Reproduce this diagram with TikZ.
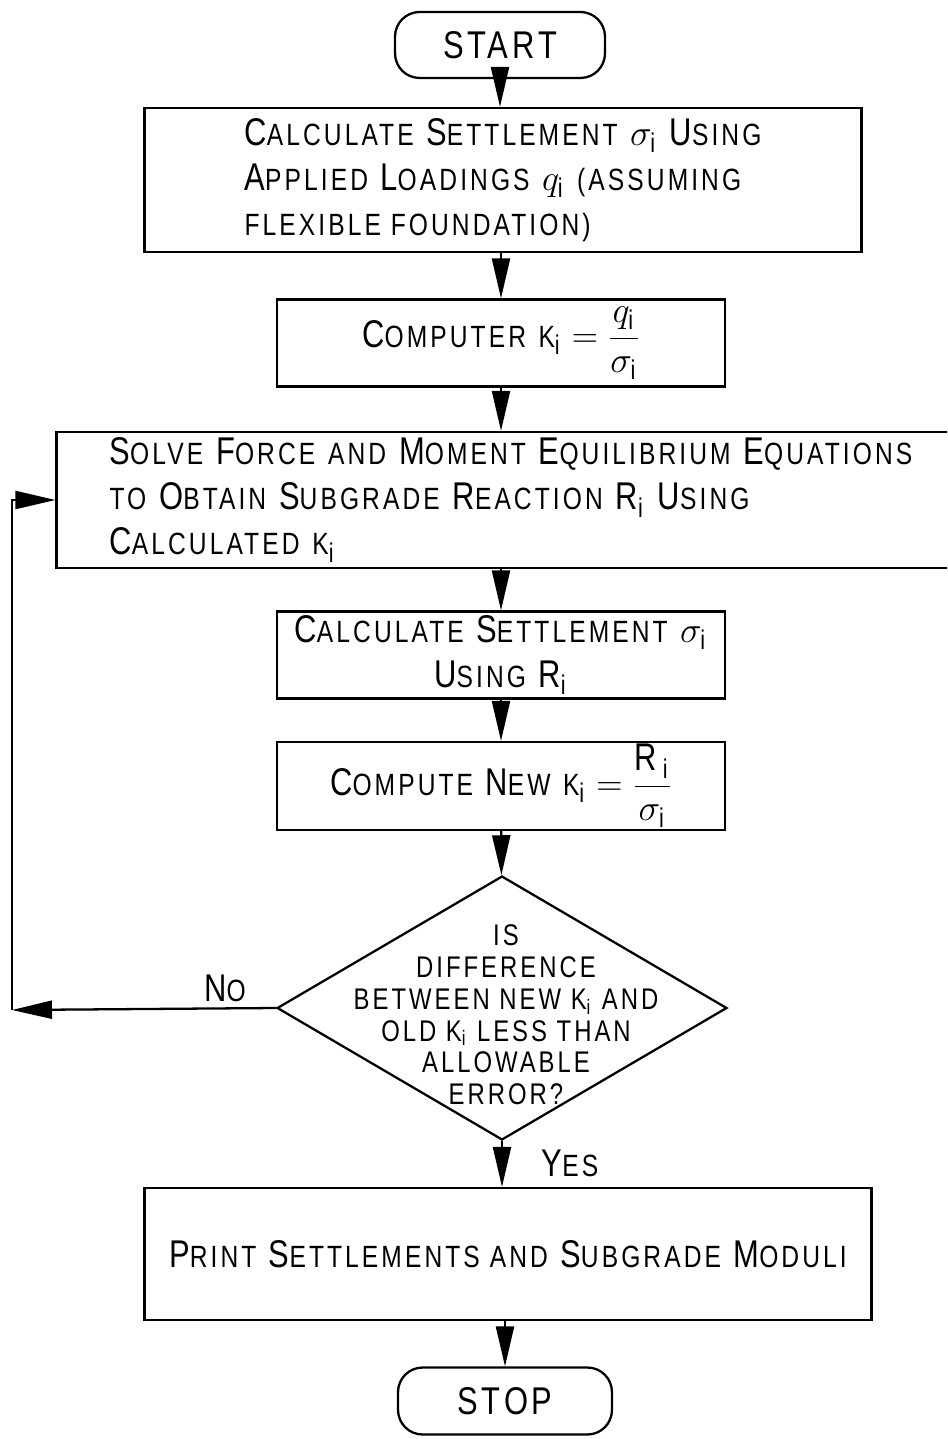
\documentclass[tikz,border=0pt]{standalone}
\usepackage{fontspec}
\setmainfont{Liberation Sans}[FakeStretch=0.8,LetterSpace=10]
\usetikzlibrary{shapes.geometric,arrows.meta}
\newcommand\sm[1]{{\fontsize{17.5}{17.5}\selectfont #1}}
\newcommand\ii{_{\mathrm{i}}}
\tikzset{
  termbox/.style={draw,line width=1.3pt,rounded corners=14pt,align=center,font=\fontsize{22}{22}\selectfont},
  stepbox/.style={draw,line width=1.3pt,align=center,inner sep=0pt,font=\fontsize{22}{25.6}\selectfont},
  decbox/.style={draw,diamond,line width=1.3pt,inner sep=0pt,minimum width=9cm,minimum height=5.28cm},
  dectext/.style={align=center,font=\fontsize{17}{18.1}\selectfont},
  flowarr/.style={-{Triangle[length=8mm,width=3.6mm]},line width=1.3pt},
  tag/.style={font=\fontsize{22}{22}\selectfont}
}

\begin{document}
\begin{tikzpicture}[x=0.02cm,y=-0.02cm]
  \useasboundingbox (0,0) rectangle (947,1439);
  \clip (0,0) rectangle (947,1439);

  \node[termbox,minimum width=4.2cm,minimum height=1.32cm] (start) at (500,45) {START};
  \node[stepbox,minimum width=14.34cm,minimum height=2.88cm,align=left] (calc1) at (503,180)
    {C\sm{ALCULATE} S\sm{ETTLEMENT} $\sigma\ii$ U\sm{SING}\\
     A\sm{PPLIED} L\sm{OADINGS} $q\ii$ \sm{(ASSUMING}\\
     \sm{FLEXIBLE FOUNDATION)}};
  \node[stepbox,minimum width=8.96cm,minimum height=1.74cm] (kcomp) at (501,343)
    {C\sm{OMPUTER} \sm{K}$\ii = \displaystyle\frac{q\ii}{\sigma\ii}$};
  \node[stepbox,align=left,text width=16.54cm,inner xsep=1.06cm,minimum height=2.72cm] (solve) at (523,500)
    {S\sm{OLVE} F\sm{ORCE AND} M\sm{OMENT} E\sm{QUILIBRIUM} E\sm{QUATIONS}\\
     \sm{TO} O\sm{BTAIN} S\sm{UBGRADE} R\sm{EACTION} R$\ii$ U\sm{SING}\\
     C\sm{ALCULATED} \sm{K}$\ii$};
  \node[stepbox,minimum width=8.96cm,minimum height=1.74cm] (calc2) at (501,655)
    {C\sm{ALCULATE} S\sm{ETTLEMENT} $\sigma\ii$\\ U\sm{SING} R$\ii$};
  \node[stepbox,minimum width=8.96cm,minimum height=1.76cm] (knew) at (501,786)
    {C\sm{OMPUTE} N\sm{EW} \sm{K}$\ii = \displaystyle\frac{\mathrm{R}\ii}{\sigma\ii}$};
  \node[decbox] (check) at (502,1008) {};
  \node[dectext] (checktxt) at (506,1015)
    {IS\\ DIFFERENCE\\ BETWEEN NEW K$\ii$ AND\\ OLD K$\ii$ LESS THAN\\ ALLOWABLE\\ ERROR?};
  \node[stepbox,minimum width=14.54cm,minimum height=2.64cm] (print) at (508,1254)
    {P\sm{RINT} S\sm{ETTLEMENTS AND} S\sm{UBGRADE} M\sm{ODULI}};
  \node[termbox,minimum width=4.28cm,minimum height=1.34cm] (stop) at (505,1401) {STOP};

  \node[tag] (no) at (225,988) {N\sm{O}};
  \node[tag] (yes) at (570,1163) {Y\sm{ES}};
  \coordinate (back) at (12,1010);

  \draw[flowarr] (start.south) -- (start.south |- calc1.north);
  \draw[flowarr] (kcomp.north |- calc1.south) -- (kcomp.north);
  \draw[flowarr] (kcomp.south) -- (kcomp.south |- solve.north);
  \draw[flowarr] (calc2.north |- solve.south) -- (calc2.north);
  \draw[flowarr] (calc2) -- (knew);
  \draw[flowarr] (knew) -- (check);
  \draw[flowarr] (check) -- (check.south |- print.north);
  \draw[flowarr] (stop.north |- print.south) -- (stop);
  \draw[flowarr] (check.west) -- (back);
  \draw[flowarr] (back) |- (solve.west);
\end{tikzpicture}
\end{document}
